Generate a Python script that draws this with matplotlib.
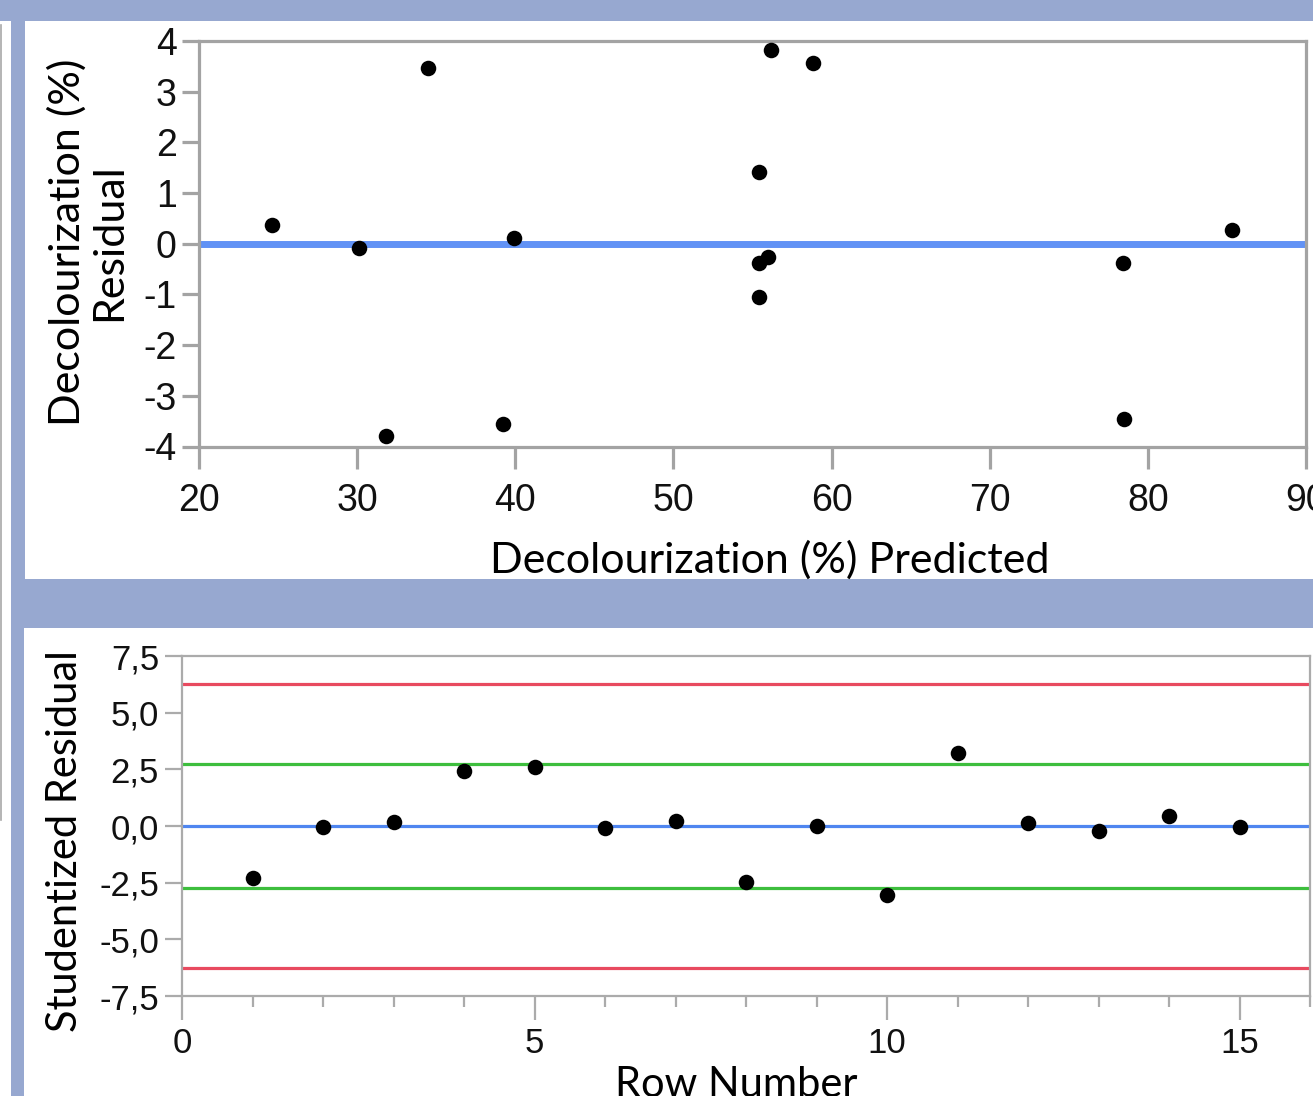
import matplotlib
matplotlib.use('Agg')
import matplotlib.pyplot as plt
from matplotlib.patches import Rectangle
from matplotlib.lines import Line2D

# ---------------- data ----------------
predicted = [24.6, 30.1, 31.8, 34.5, 39.2, 39.9, 55.4, 56.2, 58.8, 55.4, 56.0, 55.4, 78.4, 78.5, 85.35]
residual = [0.37, -0.08, -3.80, 3.47, -3.55, 0.12, 1.42, 3.82, 3.56, -0.37, -0.26, -1.06, -0.37, -3.45, 0.28]

row_number = [1, 2, 3, 4, 5, 6, 7, 8, 9, 10, 11, 12, 13, 14, 15]
studentized = [-2.28, -0.06, 0.19, 2.41, 2.60, -0.10, 0.23, -2.47, 0.01, -3.06, 3.21, 0.12, -0.23, 0.45, -0.04]
green_limit = 2.73
red_limit = 6.26

top_xticks = [20, 30, 40, 50, 60, 70, 80, 90]
top_xlabels = ['20', '30', '40', '50', '60', '70', '80', '90']
top_yticks = [-4, -3, -2, -1, 0, 1, 2, 3, 4]
top_ylabels = ['-4', '-3', '-2', '-1', '0', '1', '2', '3', '4']

bot_xticks = [0, 5, 10, 15]
bot_xlabels = ['0', '5', '10', '15']
bot_xminor = [1, 2, 3, 4, 6, 7, 8, 9, 11, 12, 13, 14, 16]
bot_yticks = [-7.5, -5.0, -2.5, 0.0, 2.5, 5.0, 7.5]
bot_ylabels = ['-7,5', '-5,0', '-2,5', '0,0', '2,5', '5,0', '7,5']

# ---------------- layout ----------------
W, H = 1313, 1096
fig = plt.figure(figsize=(W / 100, H / 100), dpi=100)
BG = '#97A8D0'
fig.patch.set_facecolor(BG)

def fx(x):
    return x / W

def fy(y):
    return 1 - y / H

def rect(x0, y0, x1, y1, color):
    fig.add_artist(Rectangle((fx(x0), fy(y1)), fx(x1) - fx(x0), fy(y0) - fy(y1),
                             transform=fig.transFigure, facecolor=color,
                             edgecolor='none', zorder=0))

# white panels
rect(25, 21, W, 579, 'white')
rect(24, 628, W, H, 'white')
rect(0, 21, 11, H, 'white')
fig.add_artist(Line2D([fx(0.8), fx(0.8)], [fy(25), fy(820)], transform=fig.transFigure,
                      color='#A8A8A8', lw=1.2, zorder=1))

def axes_px(x0, y0, x1, y1):
    return fig.add_axes([fx(x0), fy(y1), fx(x1) - fx(x0), fy(y0) - fy(y1)])

TICKFONT = ['Liberation Sans Narrow', 'Liberation Sans', 'DejaVu Sans']
LABELFONT = ['Lato', 'DejaVu Sans']
GREY = '#A3A3A3'

# ---------------- top plot ----------------
ax1 = axes_px(199, 41, 1306, 446.5)
ax1.set_xlim(20, 90)
ax1.set_ylim(-4, 4)
ax1.axhline(0, color='#6192F5', lw=5.0, zorder=2)
ax1.scatter(predicted, residual, s=125, color='black', zorder=3, linewidths=0)
for sp in ax1.spines.values():
    sp.set_color(GREY)
    sp.set_linewidth(2.3)
ax1.set_xticks(top_xticks)
ax1.set_xticklabels(top_xlabels)
ax1.set_yticks(top_yticks)
ax1.set_yticklabels(top_ylabels)
ax1.tick_params(axis='y', direction='out', length=12.5, width=2.3, color=GREY, pad=3.5,
                labelsize=27)
ax1.tick_params(axis='x', direction='out', length=16, width=2.3, color=GREY, pad=10,
                labelsize=27)
for lab in ax1.get_xticklabels() + ax1.get_yticklabels():
    lab.set_fontfamily(TICKFONT)
    lab.set_color('#111111')

fig.text(fx(88), fy(242), 'Decolourization (%)\nResidual', rotation=90, ha='center', va='center',
         multialignment='center', fontsize=31, family=LABELFONT, linespacing=1.12)
fig.text(fx(770), fy(560), 'Decolourization (%) Predicted', ha='center', va='center',
         fontsize=31, family=LABELFONT)

# ---------------- bottom plot ----------------
ax2 = axes_px(182, 656, 1310, 996)
ax2.set_xlim(0, 16)
ax2.set_ylim(-7.5, 7.5)
ax2.axhline(0, color='#4F86F0', lw=2.3, zorder=2)
ax2.axhline(green_limit, color='#3DBE3D', lw=2.3, zorder=2)
ax2.axhline(-green_limit, color='#3DBE3D', lw=2.3, zorder=2)
ax2.axhline(red_limit, color='#E84A5F', lw=2.3, zorder=2)
ax2.axhline(-red_limit, color='#E84A5F', lw=2.3, zorder=2)
ax2.scatter(row_number, studentized, s=125, color='black', zorder=3, linewidths=0)
for sp in ax2.spines.values():
    sp.set_color('#ABABAB')
    sp.set_linewidth(1.6)
ax2.set_xticks(bot_xticks)
ax2.set_xticklabels(bot_xlabels)
ax2.set_xticks(bot_xminor, minor=True)
ax2.set_yticks(bot_yticks)
ax2.set_yticklabels(bot_ylabels)
ax2.tick_params(axis='y', direction='out', length=12.5, width=1.6, color='#ABABAB', pad=4,
                labelsize=25)
ax2.tick_params(axis='x', which='major', direction='out', length=17, width=1.6,
                color='#ABABAB', pad=5, labelsize=25)
ax2.tick_params(axis='x', which='minor', direction='out', length=8, width=1.6,
                color='#ABABAB')
for lab in ax2.get_xticklabels() + ax2.get_yticklabels():
    lab.set_fontfamily(TICKFONT)
    lab.set_color('#111111')

fig.text(fx(65), fy(841), 'Studentized Residual', rotation=90, ha='center', va='center',
         fontsize=30, family=LABELFONT)
fig.text(fx(736), fy(1066), 'Row Number', ha='center', va='top',
         fontsize=30, family=LABELFONT)

fig.savefig('out.png', dpi=100, facecolor=BG)
